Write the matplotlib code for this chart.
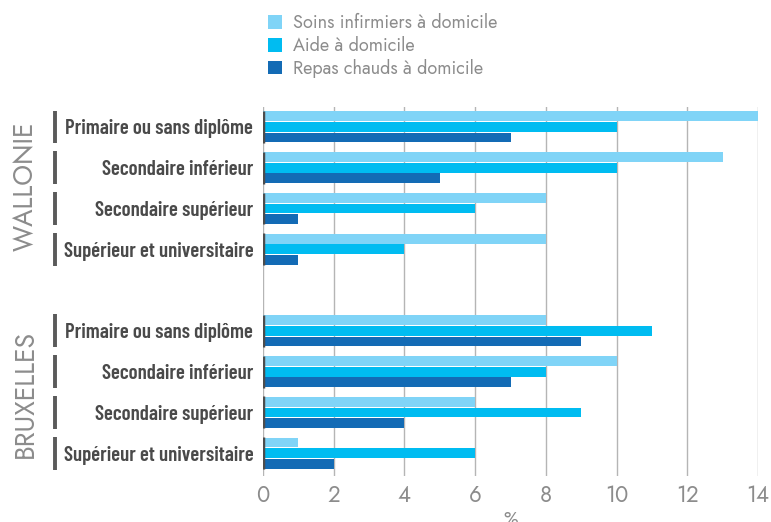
import numpy as np
import matplotlib.pyplot as plt

# Usage of home services by education level (%)
niveaux = ["Primaire ou sans diplôme", "Secondaire inférieur",
           "Secondaire supérieur", "Supérieur et universitaire"]
regions = ["WALLONIE", "BRUXELLES"]
series = ["Soins infirmiers à domicile", "Aide à domicile", "Repas chauds à domicile"]

soins_wal = [14, 13, 8, 8]
aide_wal = [10, 10, 6, 4]
repas_wal = [7, 5, 1, 1]

soins_bxl = [8, 10, 6, 1]
aide_bxl = [11, 8, 9, 6]
repas_bxl = [9, 7, 4, 2]

colors = ["#80d4f7", "#00bcf1", "#136bb5"]
grey = "#8c8c8c"
cond = ["Barlow Condensed", "DejaVu Sans"]
light = ["Jost", "DejaVu Sans"]

fig = plt.figure(figsize=(7.71, 5.22), dpi=100)
ax = fig.add_axes([263 / 771, 1 - 476 / 522, 495 / 771, (476 - 107) / 522])

# group slots: 0-3 Wallonie, 5-8 Bruxelles (slot 4 left empty)
centers = np.array([0, 1, 2, 3, 5, 6, 7, 8], dtype=float)
h = 0.26
soins = soins_wal + soins_bxl
aide = aide_wal + aide_bxl
repas = repas_wal + repas_bxl

bars = []
for i, (vals, c) in enumerate(zip([soins, aide, repas], colors)):
    b = ax.barh(centers + (i - 1) * h, vals, height=h - 0.02, color=c,
                label=series[i], zorder=3)
    bars.append(b)

ax.set_xlim(0, 14)
ax.set_ylim(8.56, -0.49)
ax.set_xticks(range(0, 15, 2))
ax.xaxis.grid(True, color="#b5b5b5", linewidth=1, zorder=0)
ax.axvline(0, color="#d5d5d5", linewidth=1.2, zorder=1)
for s in ax.spines.values():
    s.set_visible(False)

ax.set_yticks(centers)
ax.set_yticklabels(niveaux * 2, family=cond, fontweight=600,
                   fontsize=15, color="#4a4a4a")
ax.tick_params(axis="y", length=0, pad=7)
ax.tick_params(axis="x", length=0, pad=6, labelsize=16, labelcolor=grey)
for t in ax.get_xticklabels():
    t.set_family(light)
ax.set_xlabel("%", fontsize=14, color=grey, family=light, labelpad=2)

# dark markers at the bar base and in front of each label
ax.vlines(np.zeros_like(centers), centers - 1.5 * h, centers + 1.5 * h,
          color="#4d4d4d", linewidth=2.5, zorder=4)
trans = ax.get_yaxis_transform()
for c in centers:
    ax.plot([-0.42, -0.42], [c - 1.55 * h, c + 1.55 * h], color="#5a5a5a",
            linewidth=2.8, transform=trans, clip_on=False, solid_capstyle="butt")

for name, c in zip(regions, [1.45, 6.55]):
    ax.text(-0.481, c, name, transform=trans, rotation=90, ha="center",
            va="center", fontsize=19, color=grey, family=light)

leg = ax.legend(handles=bars, loc="upper left",
                bbox_to_anchor=(261 / 771, 1 - 6 / 522),
                bbox_transform=fig.transFigure, frameon=False,
                handlelength=0.75, handleheight=0.75, handletextpad=0.6,
                labelspacing=0.22, borderaxespad=0,
                prop={"family": light, "size": 13})
for t in leg.get_texts():
    t.set_color(grey)

fig.savefig("out.png", dpi=100)
